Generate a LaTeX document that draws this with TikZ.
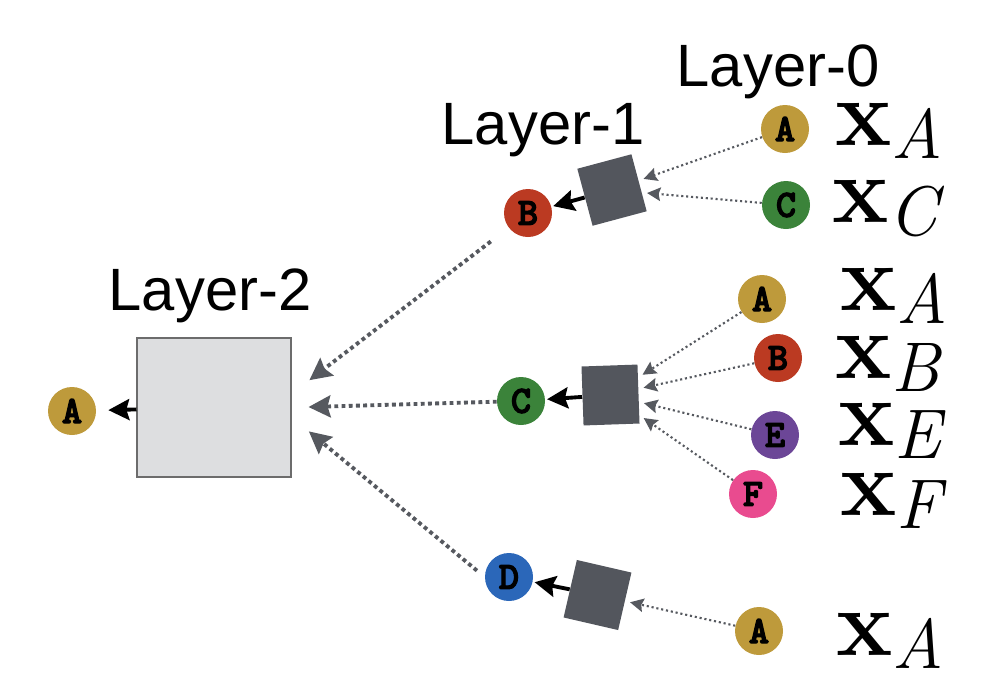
\documentclass[tikz,border=0pt]{standalone}
\usepackage{amsmath,amssymb}
\usepackage{fontspec}
\usepackage{tikz}
\usetikzlibrary{positioning,arrows.meta}
\usepackage{xcolor}
\newfontfamily\layerfont{Liberation Sans}
\newfontfamily\tagfont{lmmonolt10-bold.otf}[FakeBold=3]
\newcommand{\featx}[1]{\textbf{x}\raisebox{-7.5pt}{\fontsize{40}{41}\selectfont\itshape #1}}
\definecolor{tokGold}{HTML}{BE9A3B}
\definecolor{tokRed}{HTML}{BB3A22}
\definecolor{tokGreen}{HTML}{3B833A}
\definecolor{tokPurple}{HTML}{6C4697}
\definecolor{tokPink}{HTML}{E94B8F}
\definecolor{tokBlue}{HTML}{2B67B9}
\definecolor{sqGray}{HTML}{53565D}
\definecolor{boxGray}{HTML}{DDDEE0}
\definecolor{flowGray}{HTML}{56595F}

\begin{document}
\begin{tikzpicture}[
    token/.style={circle, minimum size=0.96cm, inner sep=0pt, font=\tagfont\fontsize{22}{22}\selectfont},
    aggSq/.style={rectangle, fill=sqGray, minimum width=1.12cm, minimum height=1.18cm, inner sep=0pt},
    layerTitle/.style={anchor=base, inner sep=0pt, font=\layerfont\fontsize{34}{36}\selectfont},
    featLabel/.style={anchor=base west, inner sep=0pt, font=\fontsize{54}{60}\selectfont},
    thinFlow/.style={draw=flowGray, line width=1.2pt, dash pattern=on 1.2pt off 1.6pt, -{Stealth[length=0.27cm, width=0.27cm, inset=0.04cm]}, shorten >=0.1cm},
    thickFlow/.style={draw=flowGray, line width=2.2pt, dash pattern=on 2.2pt off 1.9pt, -{Stealth[length=0.44cm, width=0.44cm, inset=0.06cm]}},
    outFlow/.style={draw=black, line width=2.2pt, -{Stealth[length=0.42cm, width=0.42cm, inset=0.06cm]}}
]
    \useasboundingbox (0,0) rectangle (19.92,-13.64);

    \node[layerTitle] (t0) at (15.56,-1.72) {Layer-0};
    \node[layerTitle] (t1) at (10.86,-2.88) {Layer-1};
    \node[layerTitle] (t2) at (4.20,-6.20) {Layer-2};

    \node[token, fill=tokGold] (l0A) at (15.70,-2.58) {A};
    \node[token, fill=tokGreen] (l0C) at (15.72,-4.10) {C};
    \node[token, fill=tokGold] (m0A) at (15.24,-5.98) {A};
    \node[token, fill=tokRed] (m0B) at (15.56,-7.16) {B};
    \node[token, fill=tokPurple] (m0E) at (15.50,-8.70) {E};
    \node[token, fill=tokPink] (m0F) at (15.06,-9.88) {F};
    \node[token, fill=tokGold] (d0A) at (15.18,-12.62) {A};

    \node[featLabel] (xA1) at (16.70,-2.90) {\featx{A}};
    \node[featLabel] (xC1) at (16.64,-4.44) {\featx{C}};
    \node[featLabel] (xA2) at (16.80,-6.20) {\featx{A}};
    \node[featLabel] (xB2) at (16.70,-7.56) {\featx{B}};
    \node[featLabel] (xE2) at (16.76,-8.90) {\featx{E}};
    \node[featLabel] (xF2) at (16.80,-10.30) {\featx{F}};
    \node[featLabel] (xA3) at (16.72,-13.10) {\featx{A}};

    \node[aggSq, rotate=15] (sqB) at (12.24,-3.80) {};
    \node[aggSq, rotate=2] (sqC) at (12.21,-7.90) {};
    \node[aggSq, rotate=-13] (sqD) at (11.95,-11.90) {};

    \node[token, fill=tokRed] (l1B) at (10.56,-4.26) {B};
    \node[token, fill=tokGreen] (l1C) at (10.42,-8.02) {C};
    \node[token, fill=tokBlue] (l1D) at (10.18,-11.54) {D};

    \node[rectangle, fill=boxGray, draw=gray!85!black, line width=0.6pt, minimum width=3.08cm, minimum height=2.78cm, inner sep=0pt] (l2) at (4.28,-8.15) {};
    \node[token, fill=tokGold] (l2A) at (1.44,-8.22) {A};

    \draw[thinFlow] (l0A) -- (sqB);
    \draw[thinFlow] (l0C) -- (sqB);
    \draw[thinFlow] (m0A) -- (sqC);
    \draw[thinFlow] (m0B) -- (sqC);
    \draw[thinFlow] (m0E) -- (sqC);
    \draw[thinFlow] (m0F) -- (sqC);
    \draw[thinFlow] (d0A) -- (sqD);

    \draw[outFlow, shorten >=1pt] (sqB) -- (l1B);
    \draw[outFlow, shorten >=1pt] (sqC) -- (l1C);
    \draw[outFlow, shorten >=1pt] (sqD) -- (l1D);

    \draw[thickFlow, shorten <=0.45cm, shorten >=0.45cm] (l1B) -- (l2.10);
    \draw[thickFlow, shorten >=0.34cm] (l1C) -- (l2.east);
    \draw[thickFlow, shorten <=0.2cm, shorten >=0.45cm] (l1D.west) -- (l2.-7);

    \draw[outFlow, shorten >=0.24cm] (l2) -- (l2A);
\end{tikzpicture}
\end{document}
